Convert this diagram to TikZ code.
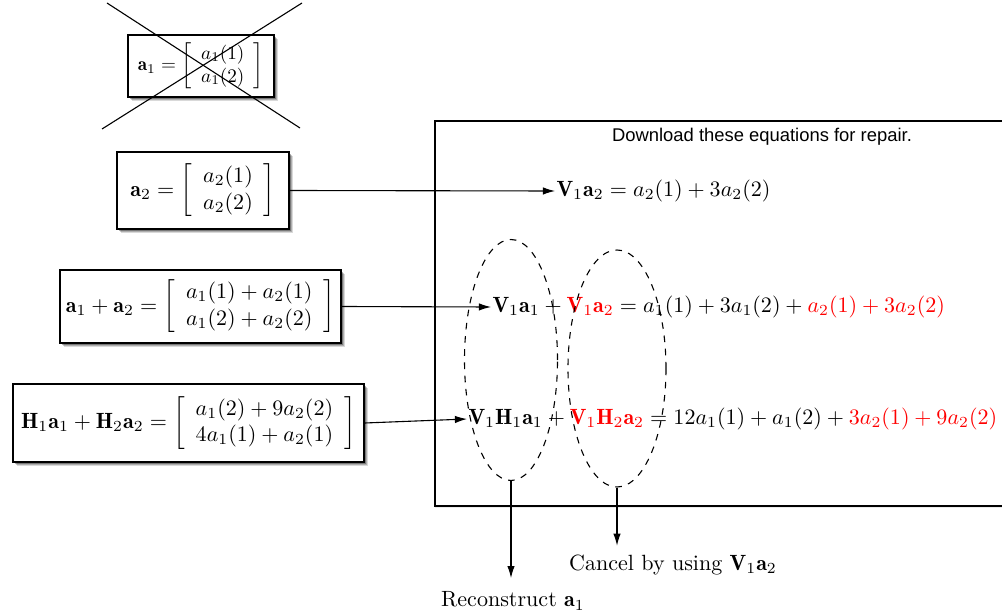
\documentclass[tikz,border=0pt]{standalone}
\usepackage{fontspec}
\newfontfamily\helv{Liberation Sans}
\usetikzlibrary{shapes.geometric,shadows,arrows.meta}
\def\pxu{0.4536pt}
\tikzset{
  eqbox/.style={draw, line width=0.7pt, fill=white, inner sep=0pt,
    drop shadow={shadow xshift=2.0pt, shadow yshift=-2.0pt, opacity=0.15, fill=black},
    drop shadow={shadow xshift=1.5pt, shadow yshift=-1.5pt, opacity=0.2, fill=black},
    drop shadow={shadow xshift=1.0pt, shadow yshift=-1.0pt, opacity=0.3, fill=black}},
  bigbox/.style={draw, line width=0.6pt, fill=white, inner sep=0pt,
    drop shadow={shadow xshift=0.6pt, shadow yshift=-0.6pt, shadow scale=1.006, opacity=0.08, fill=black},
    drop shadow={shadow xshift=0.4pt, shadow yshift=-0.4pt, opacity=0.12, fill=black}},
  eqn/.style={anchor=west, inner sep=0.5pt},
  conn/.style={line width=0.5pt, -{Latex[length=5.5pt,width=3.4pt]}},
  grp/.style={draw, dashed, ellipse, line width=0.5pt, inner sep=0pt},
  crossline/.style={line width=0.5pt},
  lbl/.style={inner sep=1pt}
}
\begin{document}
\begin{tikzpicture}[x=\pxu, y=-\pxu]
\useasboundingbox (0,0) rectangle (1002,615);
\clip (0,0) rectangle (1002,615);

% right box
\node[bigbox, minimum width=575*\pxu, minimum height=385*\pxu] (repair) at (722.5,313.5) {};
\node[inner sep=0pt] (title) at (762,137) {\helv\fontsize{8.35pt}{10pt}\selectfont Download these equations for repair.};

% left boxes
\node[eqbox, minimum width=146*\pxu, minimum height=62*\pxu] (b1) at (201,66)
  {\scalebox{0.87}{$\mathbf{a}_1=\left[\begin{array}{c} a_1(1)\\ a_1(2)\end{array}\right]$}};
\node[eqbox, minimum width=172*\pxu, minimum height=77*\pxu] (b2) at (203,190.5)
  {$\mathbf{a}_2=\left[\begin{array}{c} a_2(1)\\ a_2(2)\end{array}\right]$};
\node[eqbox, minimum width=281*\pxu, minimum height=73*\pxu] (b3) at (200.5,306.5)
  {$\mathbf{a}_1+\mathbf{a}_2=\left[\begin{array}{c} a_1(1)+a_2(1)\\ a_1(2)+a_2(2)\end{array}\right]$};
\node[eqbox, minimum width=351*\pxu, minimum height=78*\pxu] (b4) at (188.5,423)
  {$\mathbf{H}_1\mathbf{a}_1+\mathbf{H}_2\mathbf{a}_2=\left[\begin{array}{c} a_1(2)+9a_2(2)\\ 4a_1(1)+a_2(1)\end{array}\right]$};

% cross over b1
\coordinate (c1) at (107,3);
\coordinate (c2) at (300,128);
\coordinate (c3) at (302,3);
\coordinate (c4) at (102,129);
\draw[crossline] (c1) -- (c2);
\draw[crossline] (c3) -- (c4);

% equations
\node[eqn] (e1) at (555,191) {$\mathbf{V}_1\mathbf{a}_2=a_2(1)+3a_2(2)$};
\node[eqn] (e2) at (491,307) {$\mathbf{V}_1\mathbf{a}_1+{\color{red}\mathbf{V}_1\mathbf{a}_2}=a_1(1)+3a_1(2)+{\color{red}a_2(1)+3a_2(2)}$};
\node[eqn] (e3) at (467,419) {$\mathbf{V}_1\mathbf{H}_1\mathbf{a}_1+{\color{red}\mathbf{V}_1\mathbf{H}_2\mathbf{a}_2}=12a_1(1)+a_1(2)+{\color{red}3a_2(1)+9a_2(2)}$};

% ellipses
\node[grp, minimum width=93*\pxu, minimum height=241*\pxu] (g1) at (511,360) {};
\node[grp, minimum width=98*\pxu, minimum height=237*\pxu] (g2) at (617,368.5) {};

% labels
\node[lbl] (rec) at (513,601) {Reconstruct $\mathbf{a}_1$};
\node[lbl] (can) at (673,565) {Cancel by using $\mathbf{V}_1\mathbf{a}_2$};

% connectors
\draw[conn] (b2.east) -- (e1.west);
\draw[conn] (b3.east) -- (e2.west);
\draw[conn] (b4.east) -- (e3.west);
\draw[conn] (g1.south) -- ([yshift=5pt]g1.south |- rec.north);
\draw[conn] (g2.south) -- ([yshift=3pt]g2.south |- can.north);
\end{tikzpicture}
\end{document}
